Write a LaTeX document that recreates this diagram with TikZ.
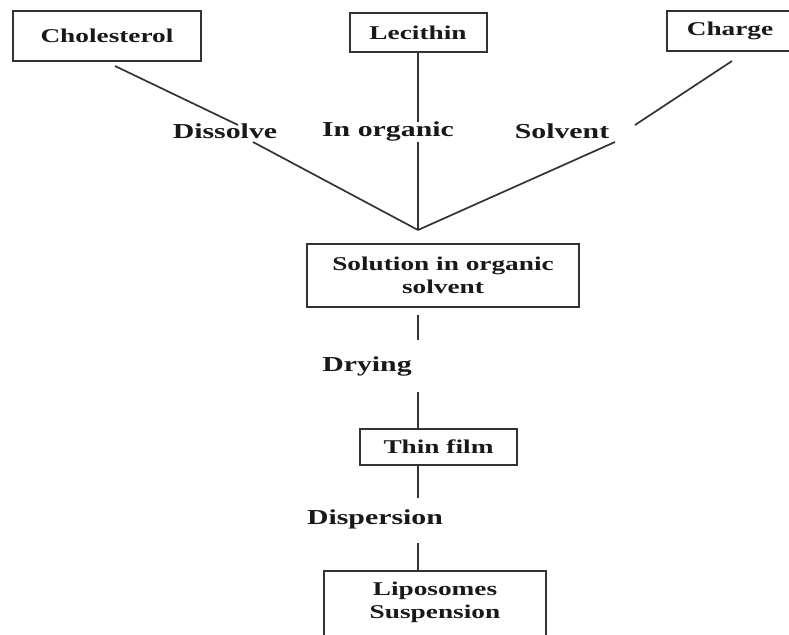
\documentclass[tikz,border=0pt]{standalone}
\usepackage{fontspec}
\setmainfont{Liberation Serif}[FakeStretch=1.4]
\usepackage{tikz}

\begin{document}
\begin{tikzpicture}[x=1pt, y=-1pt,
    stepbox/.style={draw=black!80, line width=2pt, align=center, inner sep=0pt,
                    text=black!90, font=\fontsize{19.5}{23}\selectfont\bfseries},
    steptext/.style={align=center, inner sep=0pt,
                    text=black!90, font=\fontsize{19.5}{23}\selectfont\bfseries},
    steplabel/.style={inner sep=0pt, text=black!90,
                    font=\fontsize{21.3}{25}\selectfont\bfseries},
    link/.style={draw=black!80, line width=1.7pt}]
  \clip (0,0) rectangle (789,634);
  \fill[white] (0,0) rectangle (789,634);

  \node[stepbox, minimum width=188pt, minimum height=50pt] (chol) at (107,36) {Cholesterol};
  \node[stepbox, minimum width=137pt, minimum height=39pt] (leci) at (418,32.5) {Lecithin};
  \node[stepbox, minimum width=126pt, minimum height=40pt] (charge) at (730,31) {Charge};
  \node[stepbox, minimum width=272pt, minimum height=63pt] (sol) at (443,275.5) {Solution in organic\\solvent};
  \node[stepbox, minimum width=157pt, minimum height=36pt] (thin) at (438.5,447) {Thin film};
  \node[steptext, minimum width=222pt, minimum height=63pt] (lipo) at (435,602.5) {Liposomes\\Suspension};
  \draw[link, line width=2pt] ([yshift=-20pt]lipo.south west) -- (lipo.north west)
    -- (lipo.north east) -- ([yshift=-20pt]lipo.south east);

  \node[steplabel] (dissolve) at (225,131) {Dissolve};
  \node[steplabel] (inorg) at (388,131) {In organic};
  \node[steplabel] (solvent) at (562,131) {Solvent};
  \node[steplabel] (drying) at (367,366) {Drying};
  \node[steplabel] (dispersion) at (375,519) {Dispersion};

  \coordinate (join) at (418,230);
  \coordinate (cholA) at (115,66);
  \coordinate (cholB) at (238,125);
  \coordinate (cholC) at (253,142);
  \coordinate (leciB) at (418,122);
  \coordinate (leciC) at (418,142);
  \coordinate (chgA) at (732,61);
  \coordinate (chgB) at (635,125);
  \coordinate (chgC) at (615,142);
  \coordinate (dryA) at (418,315);
  \coordinate (dryB) at (418,340);
  \coordinate (dryC) at (418,392);
  \coordinate (dispA) at (418,498);
  \coordinate (dispB) at (418,543);

  \draw[link] (cholA) -- (cholB);
  \draw[link] (cholC) -- (join);
  \draw[link] (leci.south) -- (leciB);
  \draw[link] (leciC) -- (join);
  \draw[link] (chgA) -- (chgB);
  \draw[link] (chgC) -- (join);
  \draw[link] (dryA) -- (dryB);
  \draw[link] (dryC) -- (dryC |- thin.north);
  \draw[link] (dryC |- thin.south) -- (dispA);
  \draw[link] (dispB) -- (dispB |- lipo.north);
\end{tikzpicture}
\end{document}
